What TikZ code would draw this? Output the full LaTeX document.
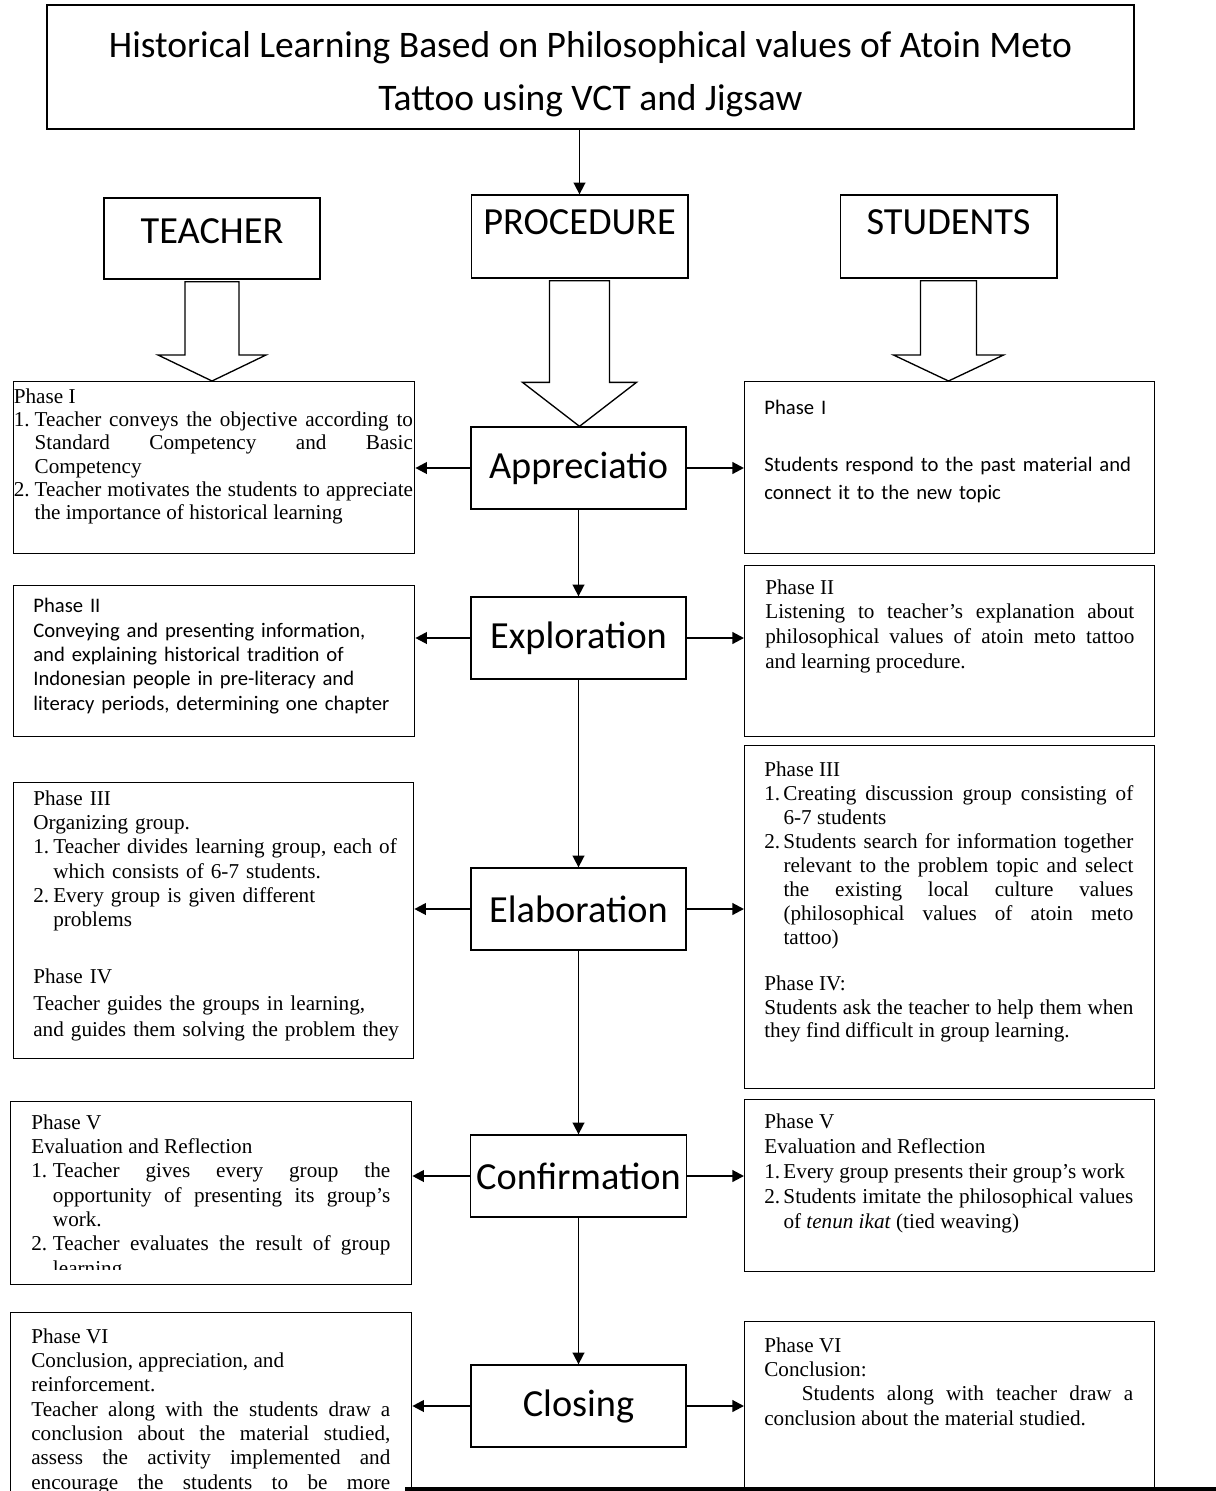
\documentclass[tikz,border=0pt]{standalone}
\usepackage{fontspec}
\setmainfont{Liberation Serif}
\setsansfont{Carlito}
\usetikzlibrary{arrows.meta,calc}

% numbered line with hanging indent
\newcommand{\phaseitem}[3][12.5pt]{\par\noindent\hangindent=#1\hangafter=1\makebox[#1][l]{#2}#3\par}

% hollow block arrow from one box down to another
\newcommand{\blockarrow}[5]{%
  \path (#1.south |- #2.north) coordinate (#1tip);
  \draw[blockline] ($(#1.south)+(-#3,2)$) -- ($(#1tip)+(-#3,-#5)$) -- ($(#1tip)+(-#4,-#5)$)
    -- (#1tip) -- ($(#1tip)+(#4,-#5)$) -- ($(#1tip)+(#3,-#5)$) -- ($(#1.south)+(#3,2)$) -- cycle;}

\tikzset{
  framebox/.style={draw, line width=0.8pt, anchor=north west, inner sep=0pt},
  stagebox/.style={draw, line width=0.8pt, minimum width=129pt, minimum height=49.2pt,
    font=\sffamily\fontsize{23}{27}\selectfont},
  headbox/.style={draw, line width=0.8pt, minimum width=130pt, minimum height=49.8pt,
    font=\sffamily\fontsize{23}{27}\selectfont},
  phasetext/.style={anchor=north west, inner sep=0pt, align=justify,
    font=\fontsize{12.7}{14.6}\selectfont},
  calibtext/.style={anchor=north west, inner sep=0pt, align=left,
    font=\sffamily\fontsize{12.4}{14.6}\selectfont},
  flow/.style={->, line width=1pt},
  side/.style={->, line width=1.3pt},
  blockline/.style={line width=0.8pt, line join=miter, fill=white},
}

\begin{document}
\begin{tikzpicture}[x=0.6pt, y=-0.6pt, >={Triangle[length=7pt,width=7pt]}]
    \path[use as bounding box] (0,0) rectangle (1216,1491);
    \clip (0,0) rectangle (1216,1491);

    % Title box
    \node[draw, line width=0.8pt, minimum width=652.2pt, minimum height=74.4pt, align=center,
      font=\sffamily\fontsize{22.5}{32}\selectfont] (title) at (590.5,67)
      {\rule{0pt}{24pt}Historical Learning Based on Philosophical values of Atoin Meto\\Tattoo using VCT and Jigsaw};

    % Column heads
    \node[headbox, minimum width=129.6pt, minimum height=48.6pt, text depth=9pt] (teacher) at (212,238.5) {TEACHER};
    \node[headbox, text depth=17.4pt] (procedure) at (579.5,236.5) {PROCEDURE};
    \node[headbox, text depth=17.4pt] (students) at (948.5,236.5) {STUDENTS};

    % Procedure steps
    \node[stagebox] (app) at (578.5,468) {Appreciatio};
    \node[stagebox] (expl) at (578.5,638) {Exploration};
    \node[stagebox] (elab) at (578.5,909) {Elaboration};
    \node[stagebox] (conf) at (578.5,1176) {Confirmation};
    \node[stagebox] (clos) at (578.5,1406) {Closing};

    % Teacher side boxes
    \node[framebox, minimum width=240.6pt, minimum height=103.2pt] (tp1) at (13,381) {};
    \node[framebox, minimum width=240.6pt, minimum height=90.6pt] (tp2) at (13,585) {};
    \node[framebox, minimum width=240pt, minimum height=165.6pt] (tp3) at (13,782) {};
    \node[framebox, minimum width=240.6pt, minimum height=109.8pt] (tp5) at (10,1101) {};
    \node[framebox, minimum width=240.6pt, minimum height=120pt] (tp6) at (10,1312) {};

    % Student side boxes
    \node[framebox, minimum width=246pt, minimum height=103.2pt] (sp1) at (744,381) {};
    \node[framebox, minimum width=246pt, minimum height=102.6pt] (sp2) at (744,565) {};
    \node[framebox, minimum width=246pt, minimum height=205.8pt] (sp3) at (744,745) {};
    \node[framebox, minimum width=246pt, minimum height=103.2pt] (sp5) at (744,1099) {};
    \node[framebox, minimum width=246pt, minimum height=120pt] (sp6) at (744,1321) {};

    % Teacher texts
    \node[phasetext, text width=239.5pt, font=\fontsize{12.7}{14}\selectfont] (tp1txt) at (13.5,388) {%
      Phase I
      \phaseitem{1.}{Teacher conveys the objective according to\linebreak Standard Competency and Basic\linebreak Competency}
      \phaseitem{2.}{Teacher motivates the students to appreciate\linebreak the importance of historical learning}};
    \node[calibtext, text width=232pt] (tp2txt) at (33,598) {%
      Phase II\newline Conveying and presenting information,\newline and explaining historical tradition of\newline
      Indonesian people in pre-literacy and\newline literacy periods, determining one chapter};
    \node[phasetext, align=left, text width=222pt] (tp3txt) at (33,790) {%
      Phase III\par Organizing group.
      \phaseitem[12pt]{1.}{Teacher divides learning group, each of\newline which consists of 6-7 students.}
      \phaseitem[12pt]{2.}{Every group is given different\newline problems}
      \vspace{19.5pt}
      Phase IV\par
      {\fontsize{12.7}{16}\selectfont Teacher guides the groups in learning,\newline and guides them solving the problem they\par}};
    \begin{scope}
      \clip (tp5.north west) rectangle ($(tp5.south east)+(0,-16)$);
      \node[phasetext, text width=215.4pt] (tp5txt) at (31,1114) {%
        Phase V\par Evaluation and Reflection
        \phaseitem[13pt]{1.}{Teacher gives every group the\linebreak opportunity of presenting its group’s\linebreak work.}
        \phaseitem[13pt]{2.}{Teacher evaluates the result of group\linebreak learning}};
    \end{scope}
    \node[phasetext, text width=215.4pt] (tp6txt) at (31,1328) {%
      Phase VI\par Conclusion, appreciation, and\newline reinforcement.\par
      Teacher along with the students draw a\linebreak conclusion about the material studied,\linebreak
      assess the activity implemented and\linebreak encourage the students to be more\linebreak};

    % Student texts
    \node[calibtext, text width=234pt, font=\sffamily\fontsize{12.4}{17}\selectfont] (sp1txt) at (764,400) {%
      Phase I\par\vspace{17pt}Students respond to the past material and\newline connect it to the new topic};
    \node[phasetext, text width=221.4pt, font=\fontsize{12.7}{14.8}\selectfont] (sp2txt) at (765,579) {%
      Phase II\par Listening to teacher’s explanation about\linebreak philosophical values of atoin meto tattoo\linebreak and learning procedure.};
    \node[phasetext, text width=221.4pt, font=\fontsize{12.7}{14.45}\selectfont] (sp3txt) at (764,761) {%
      Phase III
      \phaseitem[11.5pt]{1.}{Creating discussion group consisting of\linebreak 6-7 students}
      \phaseitem[11.5pt]{2.}{Students search for information together\linebreak relevant to the problem topic and select\linebreak
        the existing local culture values\linebreak (philosophical values of atoin meto\linebreak tattoo)}
      \vspace{13.5pt}
      {\fontsize{12.7}{14.1}\selectfont Phase IV:\par Students ask the teacher to help them when\linebreak they find difficult in group learning.\par}};
    \node[phasetext, text width=221.4pt, font=\fontsize{12.7}{15}\selectfont] (sp5txt) at (764,1113) {%
      Phase V\par Evaluation and Reflection
      \phaseitem[11.5pt]{1.}{Every group presents their group’s work}
      \phaseitem[11.5pt]{2.}{Students imitate the philosophical values\linebreak of \textit{tenun ikat} (tied weaving)}};
    \node[phasetext, text width=221.4pt] (sp6txt) at (764,1337) {%
      Phase VI\par Conclusion:\par
      \hspace*{22.5pt}Students along with teacher draw a\linebreak conclusion about the material studied.};

    % Block arrows under the column heads
    \blockarrow{teacher}{tp1}{27}{54}{26}
    \blockarrow{procedure}{app}{30}{57}{44}
    \blockarrow{students}{sp1}{28}{55}{26}

    % Main flow
    \draw[flow] (procedure.north |- title.south) -- (procedure.north);
    \draw[flow] (app.south) -- (expl.north);
    \draw[flow] (expl.south) -- (elab.north);
    \draw[flow] (elab.south) -- (conf.north);
    \draw[flow] (conf.south) -- (clos.north);

    % Side arrows
    \foreach \st/\tb/\sb in {app/tp1/sp1, expl/tp2/sp2, elab/tp3/sp3, conf/tp5/sp5, clos/tp6/sp6} {
      \draw[side] (\st.west) -- (\st.west -| \tb.east);
      \draw[side] (\st.east) -- (\st.east -| \sb.west);
    }

    % Bottom rule
    \draw[line width=2.4pt] (405,1489) -- (1216,1489);
\end{tikzpicture}
\end{document}
